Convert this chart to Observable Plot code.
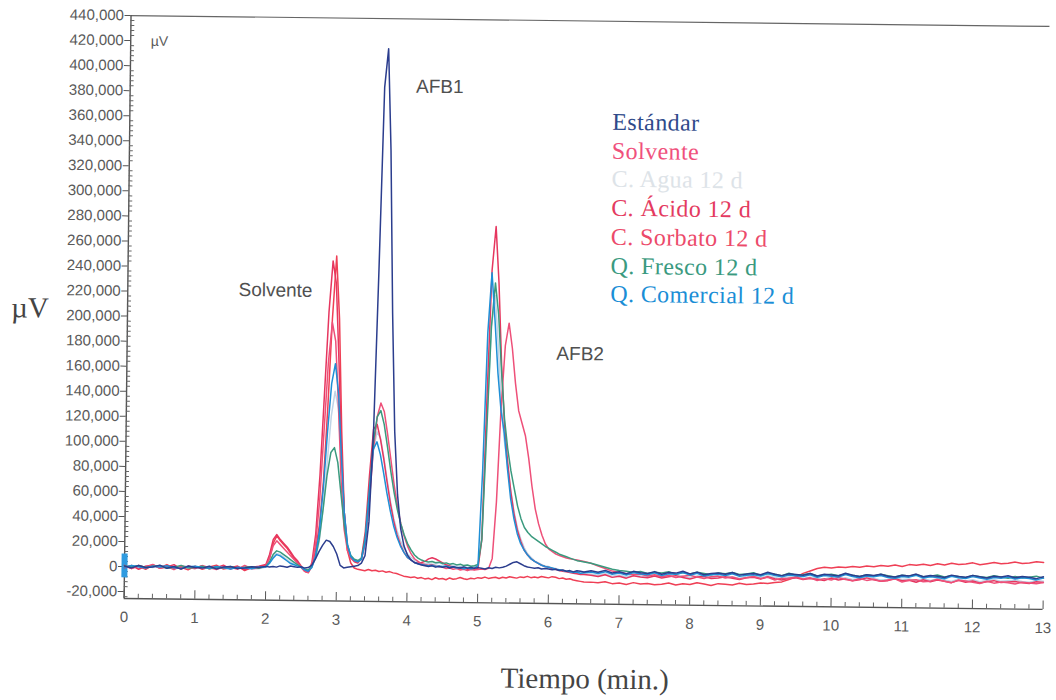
<!DOCTYPE html>
<html><head><meta charset="utf-8">
<script src="https://cdn.jsdelivr.net/npm/d3@7"></script>
<script src="https://cdn.jsdelivr.net/npm/@observablehq/plot@0.6"></script>
<style>
html,body{margin:0;padding:0;background:#fff;overflow:hidden;}
#wrap{position:relative;width:1056px;height:700px;transform:rotate(0.68deg);transform-origin:124px 566px;}
#chart{position:absolute;left:0;top:0;}
#legend{position:absolute;left:607px;top:102px;font-family:"Liberation Serif","Times New Roman",serif;font-size:24px;letter-spacing:0.4px;line-height:28.7px;}
#ylab{position:absolute;left:27px;top:309px;transform:translate(-50%,-50%);font-family:"Liberation Serif","Times New Roman",serif;font-size:29px;color:#444;}
#xlab{position:absolute;left:586px;top:673px;transform:translate(-50%,-50%);font-family:"Liberation Serif","Times New Roman",serif;font-size:29px;line-height:34px;color:#444;white-space:nowrap;}
</style></head>
<body>
<div id="wrap">
  <div id="chart"></div>
  <div id="legend"></div>
  <div id="ylab">µV</div>
  <div id="xlab">Tiempo (min.)</div>
</div>
<script>
// Tiempo (min)
const tiempo = [
0,0.1,0.2,0.3,0.4,0.5,0.6,0.7,0.8,0.9,1,1.1,1.2,1.3,1.4,1.5,1.6,1.7,1.8,1.9,
2,2.05,2.1,2.15,2.2,2.25,2.3,2.35,2.4,2.45,
2.5,2.55,2.6,2.65,2.7,2.75,2.8,2.85,2.9,2.95,
3,3.05,3.1,3.15,3.2,3.25,3.3,3.35,3.4,3.45,
3.5,3.55,3.6,3.65,3.7,3.75,3.8,3.85,3.9,3.95,
4,4.05,4.1,4.15,4.2,4.25,4.3,4.35,4.4,4.45,
4.5,4.55,4.6,4.65,4.7,4.75,4.8,4.85,4.9,4.95,
5,5.05,5.1,5.15,5.2,5.25,5.3,5.35,5.4,5.45,
5.5,5.55,5.6,5.65,5.7,5.75,5.8,5.85,5.9,5.95,
6,6.05,6.1,6.15,6.2,6.25,6.3,6.35,6.4,6.45,
6.5,
6.6,6.7,6.8,6.9,7,7.1,7.2,7.3,7.4,7.5,
7.6,7.7,7.8,7.9,8,8.1,8.2,8.3,8.4,8.5,
8.6,8.7,8.8,8.9,9,9.1,9.2,9.3,9.4,9.5,
9.6,9.7,9.8,9.9,10,10.1,10.2,10.3,10.4,10.5,
10.6,10.7,10.8,10.9,11,11.1,11.2,11.3,11.4,11.5,
11.6,11.7,11.8,11.9,12,12.1,12.2,12.3,12.4,12.5,
12.6,12.7,12.8,12.9,13];

// Señal en miles de µV
const estandar = [
0.5,-1,1,-0.5,0,1.5,-1,0.5,-1.5,1,0,-0.5,1,-1,0.5,1,-0.5,0,1,0.5,
1.5,1,1.5,1,2,1.5,1,2,1.5,1,
1.5,0.5,1,3,8,14,19,23,22,18,
12,3,1,1.5,2,2.5,3,5,11,38,
110,240,385,416,335,205,110,60,33,19,
12,8,6,5,4,3.5,3,3.5,2.5,3,
2.5,3,2,3,2.5,2,3,2,2.5,2,
2.5,2,1.5,2.5,2,3,2.5,3,4,5.5,
7,7.5,6,4.5,3.5,3,2.5,3,2,2.5,
2,1.5,2,1,1.5,0.5,1,0,1,0.5,
0,
1,0,1.5,-0.5,0.5,-1,1,0,-0.5,1,
-1,0.5,0,1.5,-0.5,1,-1,0,0.5,-0.5,
1,-1,0,0.5,-0.5,1.5,0,-1,0.5,0,
-0.5,1,-1,0.5,0,-0.5,1.5,0,-1,0.5,
0,1,-0.5,-1,0.5,0,1.5,-0.5,0.5,0,
-1,1,0,-0.5,1,0,-1,0.5,0,1,
-0.5,0.5,0,-1,0.5];

const solvente = [
1,-1.5,0.5,-2,1.5,-0.5,2,-1,0,-2,1,-1.5,0.5,2,-1,0,1.5,-2,0.5,1,
2.5,8,20,26,22,19,16,12,8,5,
1,-2,-3,2,15,35,70,130,200,250,
200,110,45,15,5,1,0,-0.5,-1,0,
-1,-0.5,-1.5,-1,-2,-1.5,-2.5,-3,-4,-5,
-5.5,-6,-5.5,-6.5,-6,-7,-6.5,-7.5,-6,-7,
-6.5,-7.5,-6,-7,-6.5,-5.5,-6.5,-7,-6,-6.5,
-5.5,-6,-5,-6,-5.5,-5,-6,-5,-5.5,-4.5,
-5,-5.5,-4.5,-5,-4,-5,-4.5,-5,-4,-4.5,
-5,-4,-4.5,-5.5,-5,-6,-5.5,-6.5,-7,-7.5,
-8,
-8,-8.5,-7.5,-9,-8.5,-9.5,-8,-9,-8.5,-9.5,
-9,-8,-9.5,-8.5,-9,-7.5,-8.5,-9.5,-8,-8.5,
-9,-7.5,-8.5,-8,-7,-7.5,-6.5,-6,-4,-2,
1,3,5,6,5.5,6.5,6,7,6.5,7.5,
7,8,7.5,8.5,7.5,9,8.5,9.5,8.5,10,
9,10.5,9.5,10,11,9.5,10.5,11.5,10.5,11,
12,11,11.5,12.5,12];

const agua = [
0,1,-1,0.5,-0.5,1,0,-1,0.5,1,-0.5,0,1,-1,0,0.5,-0.5,1,0,-0.5,
1,4,9,12,11,9,7,5,3.5,2,
1,-1,-2,1,8,22,48,85,122,142,
128,85,45,20,10,7,6,8,22,58,
95,110,105,90,72,55,41,31,23,17,
13,10,8,6.5,5.5,5,5.5,4.5,5,6,
5,4,4.5,3.5,4,3,3.5,2.5,3,3.5,
3,30,120,195,220,180,135,105,85,65,
48,35,26,19,14,11,8.5,7,5.5,4.5,
4,3,2.5,1.5,1,0.5,0,-0.5,-1,-1.5,
-1,
-1.5,-2.5,-1,-3,-2,-3.5,-1.5,-2.5,-3,-1.5,
-3,-2,-1,-2.5,-3.5,-2,-1.5,-3,-2.5,-1.5,
-2.5,-3.5,-2,-1.5,-3,-1,-2.5,-3.5,-2,-1.5,
-3,-2,-2.5,-3.5,-1.5,-3,-2,-3.5,-2.5,-1,
-2.5,-3.5,-3,-1.5,-3,-2.5,-4,-2,-3.5,-2,
-3,-4,-2,-3.5,-2.5,-4,-3,-2,-3.5,-3,
-2.5,-3.5,-4,-2.5,-3];

const acido = [
-1,1,-2,0.5,1.5,-1,0,2,-1.5,1,-0.5,1.5,-1,0,2,-1,1,-1.5,0.5,1.5,
3,11,23,27,23,20,17,13,9,6,
2,-2,-3,5,28,75,140,205,246,228,
165,95,45,18,9,6,5,9,30,75,
112,116,104,88,70,53,39,28,20,14,
10,8,6,5.5,6,7,9,10,9,7.5,
6,4.5,3.5,2.5,2,1.5,2,1,1.5,1,
2,25,140,240,275,230,165,118,88,64,
46,33,24,17,13,10,8,6.5,5,4,
3.5,2.5,2,1,0.5,0,-0.5,-1,-1.5,-2,
-2,
-2.5,-3.5,-2,-4,-3,-4.5,-2.5,-3.5,-4,-2.5,
-4,-3,-2,-3.5,-4.5,-3,-2.5,-4,-3.5,-2.5,
-3.5,-4.5,-3,-2.5,-4,-2,-3.5,-4.5,-3,-2.5,
-4,-3,-3.5,-4.5,-2.5,-4,-3,-4.5,-3.5,-2,
-3.5,-4.5,-4,-2.5,-4,-3.5,-5,-3,-4.5,-3,
-4,-5,-3,-4.5,-3.5,-5,-4,-3,-4.5,-4,
-3.5,-4.5,-5,-3.5,-4];

const sorbato = [
0.5,-1.5,1,-0.5,2,-1,0.5,-2,1,0,-1,1.5,0,-1.5,1,0.5,-1,2,-0.5,0,
2,8,18,22,19,16,13,10,7,4,
1,-2,-3,3,20,55,110,165,197,182,
130,70,32,15,9,7,6,8,20,52,
95,122,133,126,108,88,68,51,37,27,
19,13,9,7,5,4.5,4,4.5,3.5,3,
2.5,1.5,2,1,1.5,0.5,1,0,1,0.5,
1,1.5,1,2,10,55,130,180,198,178,
150,128,118,108,90,68,50,38,29,22,
18,16,14,13,12,11,10.5,10,9.5,9,
8.5,
7,5,3,1,0,-1,-1.5,-1,-2.5,-1.5,
-3,-2,-3.5,-2.5,-1.5,-3,-4,-2.5,-2,-3.5,
-2.5,-4,-3,-2,-3.5,-2.5,-4.5,-3,-3.5,-2,
-3.5,-2.5,-4.5,-3,-4,-2,-3.5,-4.5,-2.5,-4,
-3,-4.5,-3.5,-2.5,-5,-3.5,-3,-4.5,-4,-2.5,
-4,-5,-3,-3.5,-4.5,-5.5,-3.5,-5,-4,-4.5,
-5.5,-4,-4.5,-5,-4];

const fresco = [
0.5,0,1,-0.5,0.5,1,-1,0,1.5,-0.5,0,1,-1,0.5,0,1,-0.5,0.5,1,0,
1.5,5,11,14,13,11,9,7,5,3,
1.5,-0.5,-1,2,9,24,48,75,93,97,
85,60,36,19,11,8,7,9,25,62,
102,122,127,116,98,79,62,48,37,28,
21,16,12,9.5,8,7,6.5,7,6,6.5,
5.5,6,5,5.5,4.5,5,4,4.5,3.5,4,
5,25,110,195,230,205,160,122,98,80,
66,52,42,35,31,28,26,24,22,20,
18.5,17,15.5,14,13,12,11,10,9,8.5,
8,
7,5.5,4,2.5,1.5,1,0,1,-0.5,0.5,
0,1,-1,0.5,-0.5,1,0,-1,0.5,0,
1,-0.5,0,1,-1,0.5,0,-1,1,-0.5,
0,1,-1,0,0.5,-0.5,1,0,-1,0.5,
-0.5,1,0,-1,0.5,0,1,-0.5,0,1,
-0.5,0.5,0,-1,1,0,-0.5,1,0,-1,
0.5,-0.5,0,1,-0.5];

const comercial = [
-0.5,1,0,-1,0.5,0,1,-0.5,-1,0.5,1,0,-0.5,1,0,-1,0.5,0,-0.5,1,
1,4,8,11,10,8,6,4,3,2,
1,-1,-2,1,10,30,65,110,148,164,
140,90,45,20,10,7,6,8,22,60,
96,102,92,77,61,47,35,26,19,14,
10,8,6,5,4.5,4,3.5,4,3,3.5,
3,3.5,2.5,3,2,2.5,1.5,2,1.5,2,
4,80,190,238,200,158,128,110,82,58,
42,30,22,17,13,10,8,6.5,5,4,
3.5,3,2,1.5,1,0.5,0,-0.5,0,-1,
-0.5,
0,-1,0.5,-1.5,-0.5,-2,0,-1,-1.5,0,
-2,-0.5,-1,0.5,-1.5,0,-2,-1,-0.5,-1.5,
0,-2,-1,-0.5,-1.5,0.5,-1,-2,-0.5,-1,
-1.5,0,-2,-0.5,-1,-1.5,0.5,-1,-2,-0.5,
-1,0,-1.5,-2,-0.5,-1,0.5,-1.5,-0.5,-1,
-2,0,-1,-1.5,0,-1,-2,-0.5,-1,0,
-1.5,-0.5,-1,-2,-0.5];

const nombres = ["Estándar","Solvente","C. Agua 12 d","C. Ácido 12 d","C. Sorbato 12 d","Q. Fresco 12 d","Q. Comercial 12 d"];
const coloresLinea = ["#2b3d8e","#ef3f55","#bfd4e6","#e6365f","#ee5079","#3a9a7e","#1f8fd6"];
const coloresLeyenda = ["#2f4a8a","#f0507c","#dde3e8","#e43a60","#ec4a6a","#3a9a80","#1a8ed6"];
const valores = [estandar, solvente, agua, acido, sorbato, fresco, comercial];
const ordenDibujo = [2,1,3,4,5,6,0];

const yTicks = [-20000,0,20000,40000,60000,80000,100000,120000,140000,160000,180000,200000,220000,240000,260000,280000,300000,320000,340000,360000,380000,400000,420000,440000];
const xTicks = [0,1,2,3,4,5,6,7,8,9,10,11,12,13];
const inyeccion = [-9000, 10000];

const anotaciones = [
  {texto:"AFB1", t:4.38, uV:386000},
  {texto:"Solvente", t:2.09, uV:222000},
  {texto:"AFB2", t:6.41, uV:174000}
];

const yMin = -25500, yMax = 440000;

let problems = [];
valores.forEach((v,i)=>{ if (v.length !== tiempo.length) problems.push(nombres[i]+": "+v.length); });

const rows = [];
ordenDibujo.forEach(i => {
  valores[i].forEach((v, j) => rows.push({serie: nombres[i], t: tiempo[j], uV: v * 1000}));
});

const minorX = d3.range(0, 13.001, 0.2).filter(d => Math.abs(d - Math.round(d)) > 1e-6);
const minorY = d3.range(-24000, 440001, 4000).filter(d => d % 20000 !== 0);
const fmtY = d => d3.format(",")(d).replace("\u2212", "-");

const chart = Plot.plot({
  width: 1048, height: 640,
  marginLeft: 124, marginRight: 5, marginTop: 15, marginBottom: 42,
  x: {domain: [0, 13]},
  y: {domain: [yMin, yMax]},
  color: {domain: nombres, range: coloresLinea},
  style: {fontFamily: "'Liberation Sans', Arial, sans-serif", fontSize: "15px", color: "#5a5a5a", background: "transparent", overflow: "visible"},
  marks: [
    Plot.ruleY([yMax], {stroke: "#666", strokeWidth: 1.2}),
    Plot.ruleY([yMin], {stroke: "#555", strokeWidth: 1.4}),
    Plot.ruleX([0], {stroke: "#555", strokeWidth: 1.4}),
    Plot.ruleX(xTicks, {x: d => d, y1: yMin, y2: yMin + 6800, stroke: "#555"}),
    Plot.ruleX(minorX, {x: d => d, y1: yMin, y2: yMin + 3600, stroke: "#666"}),
    Plot.ruleY(minorY, {y: d => d, x1: 0, x2: 0.055, stroke: "#666"}),
    Plot.axisY({ticks: yTicks, tickFormat: fmtY, tickSize: 6, tickPadding: 1, label: null, stroke: "#555", fill: "#5a5a5a"}),
    Plot.axisX({ticks: xTicks, tickFormat: d => String(d), tickSize: 0, tickPadding: 13, label: null, fill: "#5a5a5a"}),
    Plot.ruleX([0], {y1: inyeccion[0], y2: inyeccion[1], stroke: "#2f9be0", strokeWidth: 6}),
    Plot.line(rows, {x: "t", y: "uV", z: "serie", stroke: "serie", strokeWidth: 1.5, strokeLinejoin: "round"}),
    Plot.text(anotaciones, {x: "t", y: "uV", text: "texto", fontSize: 19, fill: "#505050"}),
    Plot.text(["µV"], {frameAnchor: "top-left", dx: 20, dy: 20, fontSize: 14, fill: "#5a5a5a"})
  ]
});
document.getElementById("chart").appendChild(chart);

const leg = document.getElementById("legend");
nombres.forEach((n, i) => {
  const d = document.createElement("div");
  d.textContent = n;
  d.style.color = coloresLeyenda[i];
  leg.appendChild(d);
});
if (problems.length) {
  const p = document.createElement("div");
  p.style.cssText = "position:absolute;left:300px;top:20px;color:red;font:14px sans-serif";
  p.textContent = "Length mismatch: " + problems.join(", ") + " (tiempo " + tiempo.length + ")";
  document.getElementById("wrap").appendChild(p);
}
</script>
</body></html>
